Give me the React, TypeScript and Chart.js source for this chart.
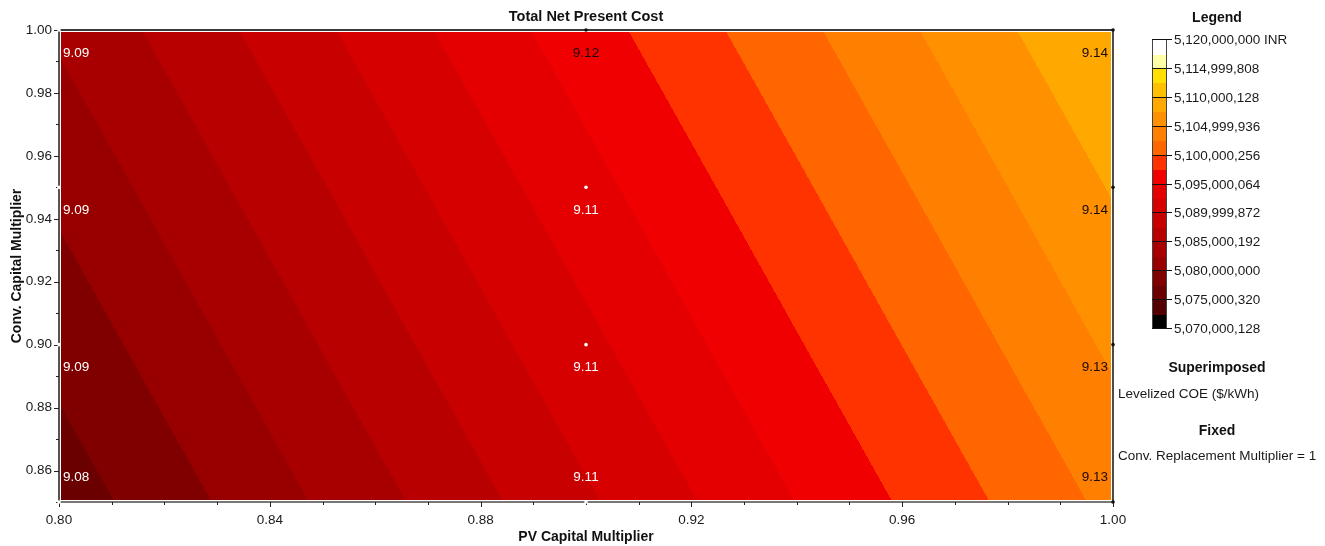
import React, { useEffect, useRef } from 'react';
import { Chart, registerables } from 'chart.js';

Chart.register(...registerables);

// ---- Data ----
const pvMultipliers = [0.8, 0.9, 1.0];
const convMultipliers = [0.85, 0.9, 0.95, 1.0];

// Total NPC (INR) at each sensitivity point, rows by Conv. Capital Multiplier
const npcConv085 = [5076070000, 5089620000, 5103170000];
const npcConv090 = [5078340000, 5091890000, 5105440000];
const npcConv095 = [5080600000, 5094150000, 5107700000];
const npcConv100 = [5082870000, 5096420000, 5109970000];
const npcGrid = [npcConv085, npcConv090, npcConv095, npcConv100];

// Superimposed Levelized COE ($/kWh)
const lcoeConv085 = ['9.08', '9.11', '9.13'];
const lcoeConv090 = ['9.09', '9.11', '9.13'];
const lcoeConv095 = ['9.09', '9.11', '9.14'];
const lcoeConv100 = ['9.09', '9.12', '9.14'];
const lcoeGrid = [lcoeConv085, lcoeConv090, lcoeConv095, lcoeConv100];

const legendMin = 5070000128;
const legendMax = 5120000000;
// band colours from lowest to highest
const bandColors = [
  '#000000', '#540000', '#6a0000', '#800000', '#980000',
  '#a80000', '#b80000', '#c80000', '#d60000', '#e40000',
  '#f00000', '#ff3300', '#ff6600', '#ff7f00', '#ff9000',
  '#ffa800', '#ffc000', '#ffe000', '#ffffa8', '#ffffff',
];
const legendLabels = [
  '5,120,000,000 INR', '5,114,999,808', '5,110,000,128', '5,104,999,936',
  '5,100,000,256', '5,095,000,064', '5,089,999,872', '5,085,000,192',
  '5,080,000,000', '5,075,000,320', '5,070,000,128',
];

const xTitle = 'PV Capital Multiplier';
const yTitle = 'Conv. Capital Multiplier';
const chartTitle = 'Total Net Present Cost';
const superTitle = 'Superimposed';
const superText = 'Levelized COE ($/kWh)';
const fixedTitle = 'Fixed';
const fixedText = 'Conv. Replacement Multiplier = 1';

const FONT = '"Liberation Sans", Arial, sans-serif';

function cellIndex(arr: number[], v: number) {
  for (let k = 0; k < arr.length - 2; k++) if (v <= arr[k + 1]) return k;
  return arr.length - 2;
}

function npcAt(xv: number, yv: number) {
  const i = cellIndex(pvMultipliers, xv);
  const j = cellIndex(convMultipliers, yv);
  const x0 = pvMultipliers[i], x1 = pvMultipliers[i + 1];
  const y0 = convMultipliers[j], y1 = convMultipliers[j + 1];
  const tx = (xv - x0) / (x1 - x0);
  const ty = (yv - y0) / (y1 - y0);
  const a = npcGrid[j][i], b = npcGrid[j][i + 1];
  const c = npcGrid[j + 1][i], d = npcGrid[j + 1][i + 1];
  return (a * (1 - tx) + b * tx) * (1 - ty) + (c * (1 - tx) + d * tx) * ty;
}

function bandOf(v: number) {
  const n = bandColors.length;
  let k = Math.floor(((v - legendMin) / (legendMax - legendMin)) * n);
  if (k < 0) k = 0;
  if (k > n - 1) k = n - 1;
  return k;
}

function hexToRgb(h: string) {
  const s = h.replace('#', '');
  return [parseInt(s.slice(0, 2), 16), parseInt(s.slice(2, 4), 16), parseInt(s.slice(4, 6), 16)];
}

const isMajorX = (v: number) => Math.round(v * 100) % 4 === 0;
const isMajorY = (v: number) => Math.round(v * 100) % 2 === 0;

const contourPlugin = {
  id: 'contourPlugin',
  beforeDatasetsDraw(chart: any) {
    const { ctx, chartArea: a, scales } = chart;
    const xs = scales.x, ys = scales.y;
    const inset = 2;
    const L = Math.round(a.left) + inset, T = Math.round(a.top) + inset;
    const R = Math.round(a.right) - inset, B = Math.round(a.bottom) - inset;
    const w = R - L, h = B - T;
    const off = document.createElement('canvas');
    off.width = w; off.height = h;
    const octx = off.getContext('2d')!;
    const img = octx.createImageData(w, h);
    const rgb = bandColors.map(hexToRgb);
    for (let j = 0; j < h; j++) {
      const yv = ys.getValueForPixel(T + j + 0.5);
      for (let i = 0; i < w; i++) {
        const xv = xs.getValueForPixel(L + i + 0.5);
        const c = rgb[bandOf(npcAt(xv, yv))];
        const p = (j * w + i) * 4;
        img.data[p] = c[0]; img.data[p + 1] = c[1]; img.data[p + 2] = c[2]; img.data[p + 3] = 255;
      }
    }
    octx.putImageData(img, 0, 0);
    ctx.save();
    ctx.fillStyle = '#ffffff';
    ctx.fillRect(a.left, a.top, a.right - a.left, a.bottom - a.top);
    ctx.drawImage(off, L, T);

    // frame
    ctx.lineCap = 'square';
    ctx.strokeStyle = '#3a3a3a';
    ctx.lineWidth = 2;
    ctx.beginPath(); ctx.moveTo(a.left, a.top); ctx.lineTo(a.right, a.top); ctx.stroke();
    ctx.strokeStyle = '#555555';
    ctx.beginPath(); ctx.moveTo(a.left, a.top); ctx.lineTo(a.left, a.bottom); ctx.stroke();
    ctx.strokeStyle = '#777777';
    ctx.beginPath(); ctx.moveTo(a.left, a.bottom); ctx.lineTo(a.right, a.bottom); ctx.stroke();
    ctx.strokeStyle = '#111111';
    ctx.lineWidth = 1.5;
    ctx.beginPath(); ctx.moveTo(a.right, a.top); ctx.lineTo(a.right, a.bottom); ctx.stroke();

    // tick marks
    ctx.strokeStyle = '#222222';
    ctx.lineWidth = 1;
    ctx.lineCap = 'butt';
    for (const t of xs.ticks) {
      const px = Math.round(xs.getPixelForValue(t.value)) + 0.5;
      const len = isMajorX(t.value) ? 5 : 3;
      ctx.beginPath(); ctx.moveTo(px, a.bottom); ctx.lineTo(px, a.bottom + len); ctx.stroke();
    }
    for (const t of ys.ticks) {
      const py = Math.round(ys.getPixelForValue(t.value)) + 0.5;
      const len = isMajorY(t.value) ? 5 : 3;
      ctx.beginPath(); ctx.moveTo(a.left - len, py); ctx.lineTo(a.left, py); ctx.stroke();
    }
    ctx.restore();
  },
  afterDatasetsDraw(chart: any) {
    const { ctx, scales } = chart;
    const xs = scales.x, ys = scales.y;
    ctx.save();
    ctx.font = `13.5px ${FONT}`;
    ctx.textBaseline = 'middle';
    convMultipliers.forEach((cv, j) => {
      pvMultipliers.forEach((pv, i) => {
        const px = xs.getPixelForValue(pv);
        const py = ys.getPixelForValue(cv);
        const band = bandOf(npcGrid[j][i]);
        ctx.fillStyle = band <= 9 ? '#ffffff' : '#1a0a0a';
        const ty = j === 0 ? py - 25 : py + 23;
        if (i === 0) { ctx.textAlign = 'left'; ctx.fillText(lcoeGrid[j][i], px + 4, ty); }
        else if (i === pvMultipliers.length - 1) { ctx.textAlign = 'right'; ctx.fillText(lcoeGrid[j][i], px - 5, ty); }
        else { ctx.textAlign = 'center'; ctx.fillText(lcoeGrid[j][i], px, ty); }
      });
    });
    ctx.restore();
  },
  afterDraw(chart: any) {
    const { ctx, chartArea: a } = chart;
    ctx.save();
    ctx.fillStyle = '#111111';
    ctx.textBaseline = 'middle';
    // title
    ctx.font = `bold 14.5px ${FONT}`;
    ctx.textAlign = 'center';
    ctx.fillText(chartTitle, (a.left + a.right) / 2, 17);
    // axis titles
    ctx.font = `bold 14px ${FONT}`;
    ctx.fillText(xTitle, (a.left + a.right) / 2, 537);
    ctx.save();
    ctx.translate(17, (a.top + a.bottom) / 2);
    ctx.rotate(-Math.PI / 2);
    ctx.fillText(yTitle, 0, 0);
    ctx.restore();

    // legend
    const cx = 1217;
    ctx.font = `bold 14px ${FONT}`;
    ctx.fillText('Legend', cx, 18);
    const barL = 1152, barR = 1166, barT = 39, barB = 328;
    const n = bandColors.length;
    const bh = (barB - barT) / n;
    for (let k = 0; k < n; k++) {
      const y1 = barB - (k + 1) * bh;
      ctx.fillStyle = bandColors[k];
      ctx.fillRect(barL, Math.floor(y1), barR - barL, Math.ceil(bh) + 1);
    }
    ctx.strokeStyle = '#444444';
    ctx.lineWidth = 1;
    ctx.strokeRect(barL + 0.5, barT + 0.5, barR - barL, barB - barT);
    ctx.strokeStyle = '#111111';
    ctx.font = `13.5px ${FONT}`;
    ctx.textAlign = 'left';
    ctx.fillStyle = '#1a1a1a';
    const m = legendLabels.length - 1;
    legendLabels.forEach((lab, idx) => {
      const y = Math.round(barT + (idx * (barB - barT)) / m) + 0.5;
      ctx.beginPath(); ctx.moveTo(barL, y); ctx.lineTo(barR + 6, y); ctx.stroke();
      ctx.fillText(lab, 1174, y + 1);
    });

    ctx.textAlign = 'center';
    ctx.font = `bold 14px ${FONT}`;
    ctx.fillStyle = '#111111';
    ctx.fillText(superTitle, cx, 368);
    ctx.fillText(fixedTitle, cx, 431);
    ctx.textAlign = 'left';
    ctx.font = `13.5px ${FONT}`;
    ctx.fillStyle = '#1a1a1a';
    ctx.fillText(superText, 1118, 394);
    ctx.fillText(fixedText, 1118, 456);
    ctx.restore();
  },
};

export default function App() {
  const ref = useRef<HTMLCanvasElement>(null);
  useEffect(() => {
    if (!ref.current) return;
    const points: any[] = [];
    const pointColors: string[] = [];
    convMultipliers.forEach((cv, j) =>
      pvMultipliers.forEach((pv, i) => {
        points.push({ x: pv, y: cv });
        pointColors.push(bandOf(npcGrid[j][i]) <= 9 ? '#ffffff' : '#111111');
      })
    );
    const chart = new Chart(ref.current, {
      type: 'scatter',
      data: {
        datasets: [
          {
            data: points,
            pointRadius: 1.8,
            pointBorderWidth: 0,
            pointBackgroundColor: pointColors,
            clip: false as any,
          },
        ],
      },
      options: {
        animation: false,
        responsive: false,
        devicePixelRatio: 1,
        events: [],
        layout: { padding: { left: 0, top: 30, right: 212, bottom: 0 } },
        plugins: { legend: { display: false }, title: { display: false }, tooltip: { enabled: false } },
        scales: {
          x: {
            type: 'linear',
            min: 0.8,
            max: 1.0,
            afterFit: (s: any) => { s.height = 44; },
            border: { display: false },
            grid: { display: false, drawTicks: false },
            ticks: {
              stepSize: 0.01,
              maxTicksLimit: 100,
              autoSkip: false,
              maxRotation: 0,
              padding: 10,
              color: '#1a1a1a',
              font: { family: FONT, size: 13.5 },
              callback: (v: any) => (isMajorX(Number(v)) ? Number(v).toFixed(2) : ''),
            },
          },
          y: {
            type: 'linear',
            min: 0.85,
            max: 1.0,
            afterFit: (s: any) => { s.width = 59; },
            border: { display: false },
            grid: { display: false, drawTicks: false },
            ticks: {
              stepSize: 0.01,
              maxTicksLimit: 100,
              autoSkip: false,
              padding: 7,
              color: '#1a1a1a',
              font: { family: FONT, size: 13.5 },
              callback: (v: any) => (isMajorY(Number(v)) && Number(v) > 0.851 ? Number(v).toFixed(2) : ''),
            },
          },
        },
      },
      plugins: [contourPlugin],
    });
    return () => chart.destroy();
  }, []);
  return (
    <div style={{ position: 'fixed', left: 0, top: 0, width: 1325, height: 546, background: '#ffffff' }}>
      <canvas ref={ref} width={1325} height={546} style={{ display: 'block' }} />
    </div>
  );
}
